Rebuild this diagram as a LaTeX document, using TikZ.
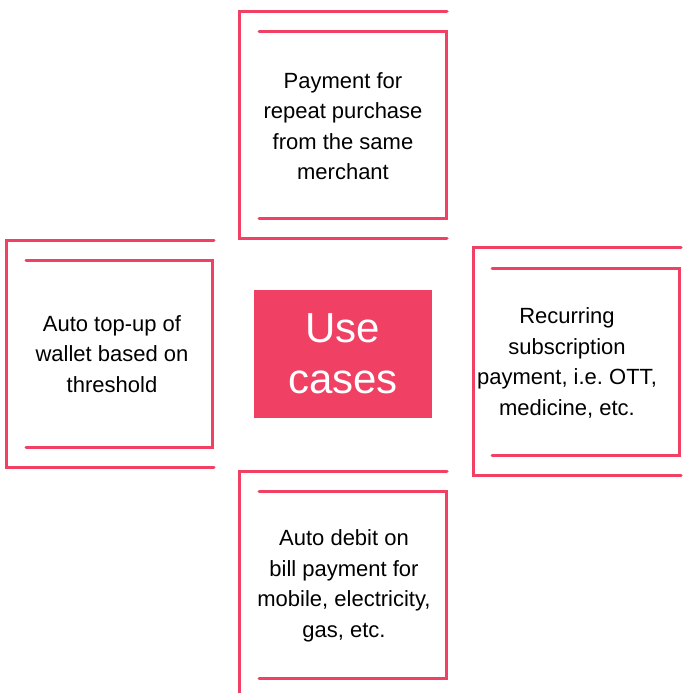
\documentclass[tikz,border=0pt]{standalone}
\usepackage{fontspec}
\setmainfont{Liberation Sans}
\frenchspacing
\definecolor{accent}{RGB}{240,64,100}
\begin{document}
\begin{tikzpicture}[x=1pt,y=-1pt,
  frame/.style={draw=accent,line width=3pt,line cap=round,line join=miter},
  label/.style={align=center,font=\fontsize{22}{30.5}\selectfont,text=black,inner sep=0pt},
  hub/.style={fill=accent,text=white,align=center,minimum width=178pt,minimum height=128pt,
    font=\fontsize{42}{51}\selectfont,inner sep=0pt}]
\useasboundingbox (0,0) rectangle (684,693);
\fill[white] (0,0) rectangle (684,693);

% centre block
\node[hub] (hub) at (343,353.5) {Use\\cases};

% top card
\draw[frame] (447,12) -- (239,12) -- (239,238) -- (447,238);
\draw[frame] (259,32) -- (446,32) -- (446,218) -- (259,218);
\node[label] (top) at (343,126) {Payment for\\repeat purchase\\from the same\\merchant};

% left card
\draw[frame] (214,240) -- (6,240) -- (6,467) -- (214,467);
\draw[frame] (26,260) -- (212,260) -- (212,447) -- (26,447);
\node[label] (left) at (112,354) {Auto top-up of\\wallet based on\\threshold};

% right card
\draw[frame] (681,247) -- (473,247) -- (473,475) -- (681,475);
\draw[frame] (492,268) -- (679,268) -- (679,455) -- (492,455);
\node[label] (right) at (567,363) {Recurring\\subscription\\payment, i.e. OTT,\\medicine, etc.};

% bottom card
\draw[frame] (447,471) -- (239,471) -- (239,700);
\draw[frame] (259,491) -- (446,491) -- (446,678) -- (259,678);
\node[label] (bottom) at (344,586) {Auto debit on\\bill payment for\\mobile, electricity,\\gas, etc.};
\end{tikzpicture}
\end{document}
